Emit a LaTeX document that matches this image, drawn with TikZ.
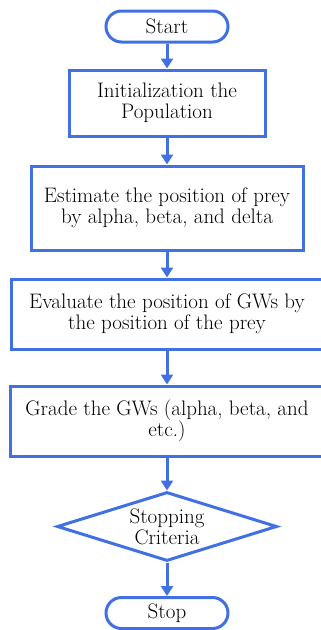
\documentclass[tikz,border=0pt]{standalone}
\usepackage{fontspec}
\usetikzlibrary{arrows.meta,shapes.geometric}
\definecolor{flowblue}{RGB}{64,112,226}
\begin{document}
\begin{tikzpicture}[x=1pt,y=-1pt,
  every node/.style={font=\fontsize{21}{21.5}\selectfont, text=black},
  terminal/.style={draw=flowblue, line width=3pt, rounded corners=15.5pt,
    minimum width=122pt, minimum height=31pt, inner sep=0pt},
  procbox/.style={draw=flowblue, line width=3pt, rectangle, align=center, inner sep=0pt},
  decision/.style={draw=flowblue, line width=3pt, diamond, inner sep=0pt,
    minimum width=220pt, minimum height=69pt},
  flow/.style={draw=flowblue, line width=3pt, -{Triangle[width=12pt,length=10pt]}}]
\useasboundingbox (0,0) rectangle (321,630);
\clip (0,0) rectangle (321,630);

\node[terminal] (start) at (167,26.5) {Start};
\node[procbox, minimum width=196pt, minimum height=66pt] (init) at (167,103)
  {Initialization the\\Population};
\node[procbox, minimum width=272pt, minimum height=84pt] (estimate) at (167,208)
  {Estimate the position of prey\\by alpha, beta, and delta};
\node[procbox, minimum width=312pt, minimum height=70pt] (evaluate) at (167,314)
  {Evaluate the position of GWs by\\the position of the prey};
\node[procbox, minimum width=314pt, minimum height=70pt] (grade) at (167,421)
  {Grade the GWs (alpha, beta, and\\etc.)};
\node[decision] (crit) at (167,526.5) {};
\node[align=center] (crittext) at (167,527) {Stopping\\Criteria};
\node[terminal] (stop) at (167,613) {Stop};

\draw[flow] (start) -- (init);
\draw[flow] (init) -- (estimate);
\draw[flow] (estimate) -- (evaluate);
\draw[flow] (evaluate) -- (grade);
\draw[flow] (grade) -- (crit);
\draw[flow] (crit) -- (stop);
\end{tikzpicture}
\end{document}
